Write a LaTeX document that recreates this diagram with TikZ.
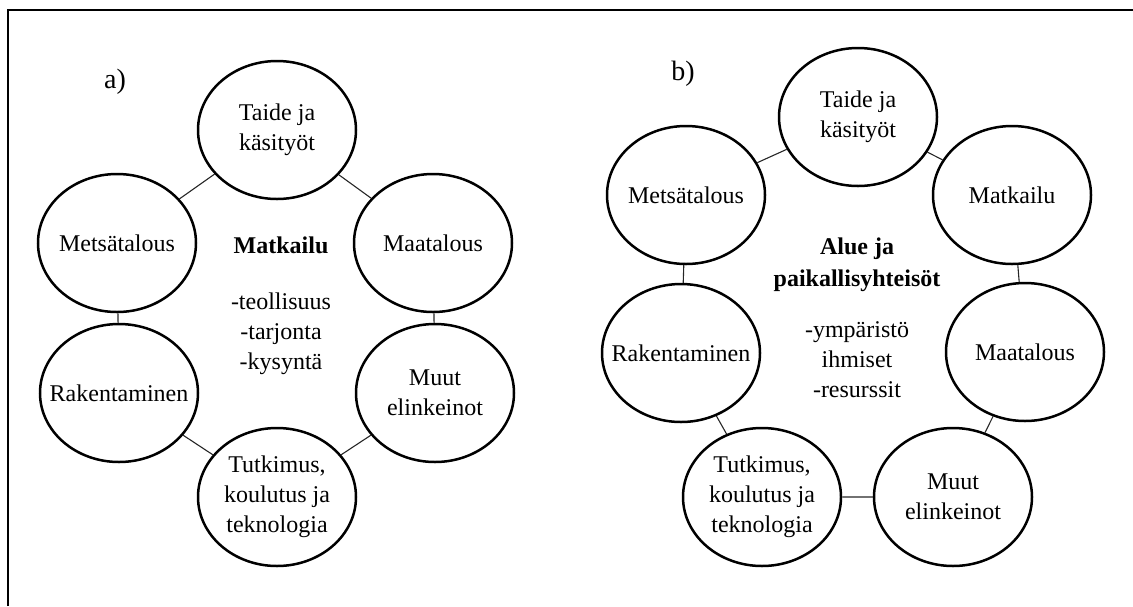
\documentclass[tikz,border=0pt]{standalone}
\usepackage{fontspec}
\setmainfont{Liberation Serif}
\usepackage{tikz}
\usetikzlibrary{positioning}
\usetikzlibrary{shapes.geometric}
\tikzset{alanode/.style={shape=ellipse, minimum width=158pt, minimum height=138pt, inner xsep=-20pt, inner ysep=0pt, draw=black, line width=2.5pt, align=center, font=\fontsize{24}{30}\selectfont},
  midtext/.style={align=center, font=\fontsize{24}{30}\selectfont},
  link/.style={draw=black!85, line width=1.1pt}}

\begin{document}
\begin{tikzpicture}[x=1pt, y=-1pt]
    \useasboundingbox (0,0) rectangle (1133,606);
    \draw[line width=2.2pt] (8,606) -- (8,10) -- (1133,10);

    \node[font=\fontsize{28}{30}\selectfont] (la) at (115,82) {a)};
    \node[alanode] (ataide) at (277,130) {Taide ja\\käsityöt};
    \node[alanode] (ametsa) at (117,243) {Metsätalous};
    \node[alanode] (amaa) at (433,243) {Maatalous};
    \node[alanode] (araken) at (119,393) {Rakentaminen};
    \node[alanode] (amuut) at (435,393) {Muut\\elinkeinot};
    \node[alanode] (atutk) at (277,497) {Tutkimus,\\koulutus ja\\teknologia};
    \node[midtext] (amatk) at (281,306) {\textbf{Matkailu}\\[26pt]-teollisuus\\-tarjonta\\-kysyntä};
    \draw[link] (ataide) -- (ametsa) (ataide) -- (amaa)
      (ametsa) -- (araken) (amaa) -- (amuut)
      (araken) -- (atutk) (amuut) -- (atutk);

    \node[font=\fontsize{28}{30}\selectfont] (lb) at (683,74) {b)};
    \node[alanode] (btaide) at (858,117) {Taide ja\\käsityöt};
    \node[alanode] (bmetsa) at (686,195) {Metsätalous};
    \node[alanode] (bmatk) at (1012,195) {Matkailu};
    \node[alanode] (braken) at (681,353) {Rakentaminen};
    \node[alanode] (bmaa) at (1025,352) {Maatalous};
    \node[alanode] (btutk) at (762,497) {Tutkimus,\\koulutus ja\\teknologia};
    \node[alanode] (bmuut) at (953,497) {Muut\\elinkeinot};
    \node[midtext] (balue) at (857,318) {\textbf{Alue ja}\\[2pt]\textbf{paikallisyhteisöt}\\[21pt]-ympäristö\\ihmiset\\-resurssit};
    \draw[link] (btaide) -- (bmetsa) (btaide) -- (bmatk)
      (bmetsa) -- (braken) (bmatk) -- (bmaa)
      (braken) -- (btutk) (btutk) -- (bmuut) (bmaa) -- (bmuut);
\end{tikzpicture}
\end{document}
